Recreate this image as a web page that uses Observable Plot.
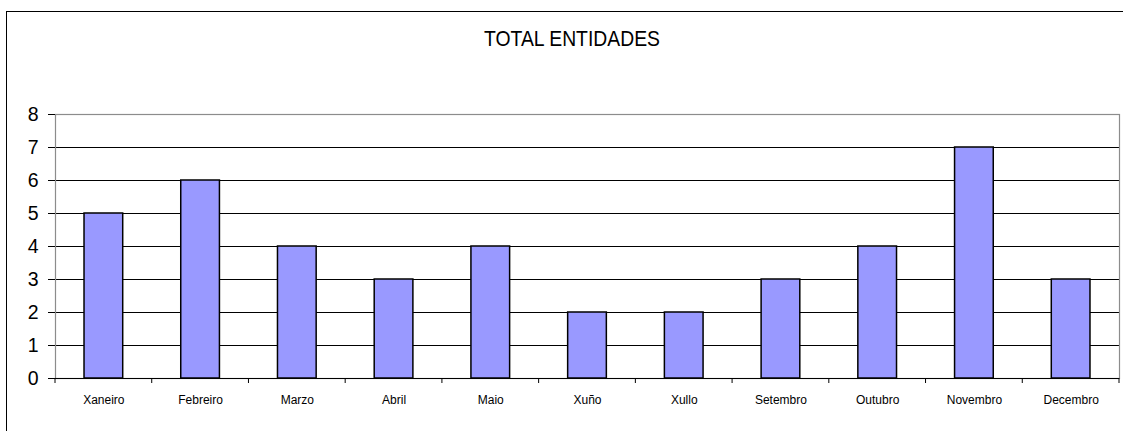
<!DOCTYPE html>
<html>
<head>
<meta charset="utf-8">
<script src="https://cdn.jsdelivr.net/npm/d3@7"></script>
<script src="https://cdn.jsdelivr.net/npm/@observablehq/plot@0.6"></script>
<style>
  html, body { margin: 0; padding: 0; background: #fff; }
  #wrap { position: relative; width: 1123px; height: 431px; overflow: hidden; font-family: "Liberation Sans", Arial, sans-serif; }
  #border { position: absolute; left: 6px; top: 11px; width: 1200px; height: 600px; border-left: 1px solid #000; border-top: 1px solid #000; box-sizing: border-box; }
  #title { position: absolute; left: 0; top: 26px; width: 1144px; text-align: center; font-size: 22px; color: #000; transform: scaleX(0.88); transform-origin: 572px 0; white-space: nowrap; }
  #chart { position: absolute; left: 0; top: 0; }
</style>
</head>
<body>
<div id="wrap">
  <div id="border"></div>
  <div id="title">TOTAL ENTIDADES</div>
  <div id="chart"></div>
</div>
<script>
const months = ["Xaneiro", "Febreiro", "Marzo", "Abril", "Maio", "Xuño", "Xullo", "Setembro", "Outubro", "Novembro", "Decembro"];
const values = [5, 6, 4, 3, 4, 2, 2, 3, 4, 7, 3];
const yTicks = [0, 1, 2, 3, 4, 5, 6, 7, 8];
const gridValues = [1, 2, 3, 4, 5, 6, 7];

const data = months.map((m, i) => ({month: m, value: values[i]}));

function bandTicks(index, scales, values, dims) {
  const x = scales.x;
  const step = x.step();
  const bw = x.bandwidth();
  const y0 = scales.y(0);
  const g = d3.create("svg:g");
  const bounds = months.map(m => x(m) - (step - bw) / 2);
  bounds.push(x(months[months.length - 1]) + bw + (step - bw) / 2);
  g.selectAll("line").data(bounds).join("line")
    .attr("x1", d => d).attr("x2", d => d)
    .attr("y1", y0).attr("y2", y0 + 5)
    .attr("stroke", "#000").attr("stroke-width", 1);
  return g.node();
}

const chart = Plot.plot({
  width: 1123,
  height: 431,
  marginLeft: 55,
  marginRight: 4,
  marginTop: 114,
  marginBottom: 53,
  style: {fontFamily: "'Liberation Sans', Arial, sans-serif", background: "transparent", overflow: "visible"},
  x: {domain: months, paddingInner: 0.6, paddingOuter: 0.3, round: false, label: null},
  y: {domain: [0, 8], label: null},
  marks: [
    Plot.ruleY(gridValues, {stroke: "#000", strokeWidth: 1}),
    Plot.frame({stroke: "#8c8c8c", strokeWidth: 1.2}),
    Plot.barY(data, {x: "month", y: "value", fill: "#9999ff", stroke: "#000", strokeWidth: 1.5}),
    Plot.ruleY([0], {stroke: "#000", strokeWidth: 1.2}),
    Plot.axisY({ticks: yTicks, tickSize: 7, tickPadding: 10, fontSize: 19.5, tickFormat: d => String(d), stroke: "#000", fill: "#000", label: null}),
    Plot.axisX({tickSize: 0, tickPadding: 17, fontSize: 12, fill: "#000", label: null}),
    bandTicks
  ]
});
document.getElementById("chart").appendChild(chart);
</script>
</body>
</html>
